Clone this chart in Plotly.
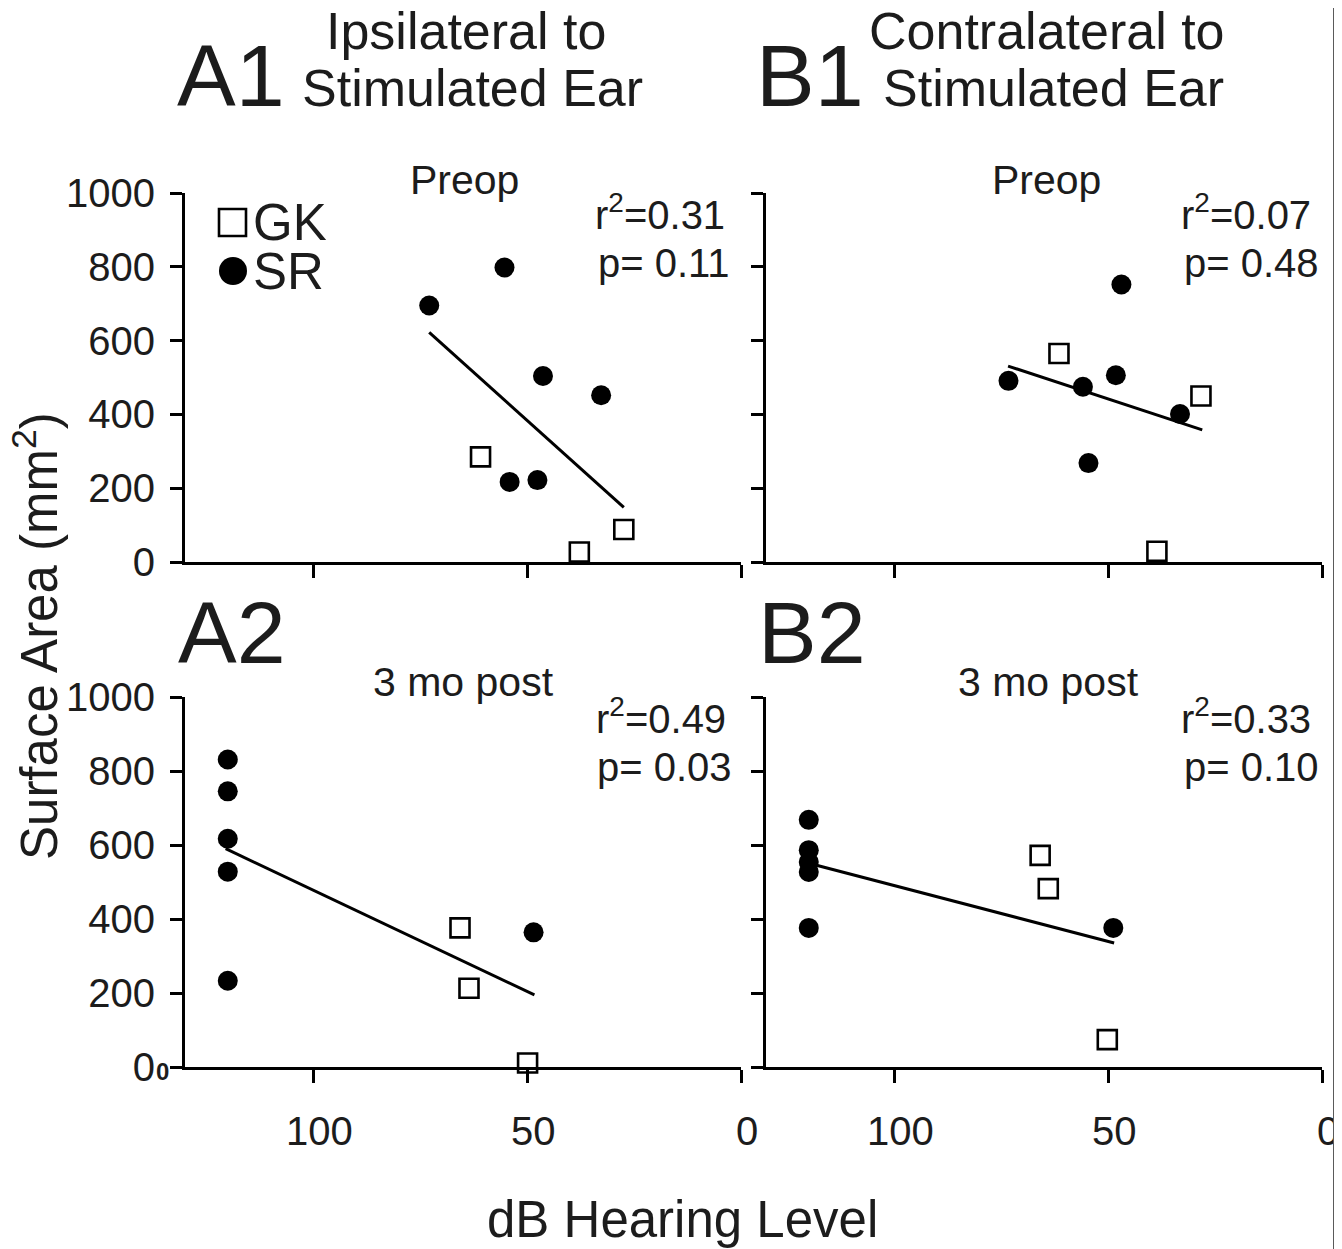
import plotly.graph_objects as go

W, H = 1342, 1249
OX, OY = 8, 8  # page body margin offset

# ---------------- data ----------------
# A1: ipsilateral, preop
a1_gk_x = [60.9, 37.8, 27.4]
a1_gk_y = [285, 27, 88]
a1_sr_x = [72.9, 55.3, 46.3, 32.7, 54.1, 47.6]
a1_sr_y = [695, 798, 504, 452, 217, 222]
a1_fit_x = [72.9, 27.4]
a1_fit_y = [622, 148]

# B1: contralateral, preop
b1_gk_x = [61.5, 28.3, 38.6]
b1_gk_y = [565, 450, 29]
b1_sr_x = [73.3, 55.9, 48.2, 46.9, 54.6, 33.2]
b1_sr_y = [491, 475, 506, 752, 268, 401]
b1_fit_x = [73.4, 28.0]
b1_fit_y = [531, 358]

# A2: ipsilateral, 3 mo post
a2_gk_x = [65.7, 63.6, 49.9]
a2_gk_y = [376, 213, 11]
a2_sr_x = [120, 120, 120, 120, 120, 48.5]
a2_sr_y = [831, 745, 617, 528, 233, 364]
a2_fit_x = [120.5, 48.3]
a2_fit_y = [590, 195]

# B2: contralateral, 3 mo post
b2_gk_x = [65.9, 64.0, 50.2]
b2_gk_y = [572, 482, 74]
b2_sr_x = [120, 120, 120, 120, 120, 48.8]
b2_sr_y = [668, 586, 554, 527, 376, 376]
b2_fit_x = [119.1, 48.6]
b2_fit_y = [548, 335]

x_tickvals = [100, 50, 0]
x_ticktext = ["100", "50", "0"]
y_tickvals = [0, 200, 400, 600, 800, 1000]
y_ticktext = ["0", "200", "400", "600", "800", "1000"]

panel_labels = ["A1", "B1", "A2", "B2"]
period_labels = ["Preop", "Preop", "3 mo post", "3 mo post"]
r2_labels = ["0.31", "0.07", "0.49", "0.33"]
p_labels = ["0.11", "0.48", "0.03", "0.10"]
column_titles = ["Ipsilateral to<br>Stimulated Ear", "Contralateral to<br>Stimulated Ear"]
legend_names = ["GK", "SR"]

FONT = "Liberation Sans, Arial, Helvetica, sans-serif"
TXT = "#1c1c1c"


def px(x):
    return (x - OX) / W


def py(y):
    return 1 - (y - OY) / H


# ---------------- layout geometry (target pixels) ----------------
col_x = [(185, 741), (766, 1322)]
row_y = [(193, 562), (697, 1067)]

fig = go.Figure()

panels = [
    (a1_gk_x, a1_gk_y, a1_sr_x, a1_sr_y, a1_fit_x, a1_fit_y),
    (b1_gk_x, b1_gk_y, b1_sr_x, b1_sr_y, b1_fit_x, b1_fit_y),
    (a2_gk_x, a2_gk_y, a2_sr_x, a2_sr_y, a2_fit_x, a2_fit_y),
    (b2_gk_x, b2_gk_y, b2_sr_x, b2_sr_y, b2_fit_x, b2_fit_y),
]

for i, (gx, gy, sx, sy, fx, fy) in enumerate(panels):
    n = "" if i == 0 else str(i + 1)
    xa, ya = "x" + n, "y" + n
    fig.add_trace(go.Scatter(x=fx, y=fy, mode="lines", xaxis=xa, yaxis=ya,
                             line=dict(color="black", width=3), showlegend=False,
                             hoverinfo="skip"))
    fig.add_trace(go.Scatter(x=sx, y=sy, mode="markers", xaxis=xa, yaxis=ya,
                             name=legend_names[1], showlegend=False, cliponaxis=False,
                             marker=dict(symbol="circle", size=20, color="black",
                                         line=dict(width=0))))
    fig.add_trace(go.Scatter(x=gx, y=gy, mode="markers", xaxis=xa, yaxis=ya,
                             name=legend_names[0], showlegend=False, cliponaxis=False,
                             marker=dict(symbol="square", size=19, color="white",
                                         line=dict(color="black", width=2.6))))

    r, c = divmod(i, 2)
    x0, x1 = col_x[c]
    y0, y1 = row_y[r]
    bottom = r == 1
    left = c == 0
    fig.layout["xaxis" + n] = dict(
        domain=[px(x0), px(x1)], range=[130, 0], anchor=ya, automargin=False,
        showgrid=False, zeroline=False, showline=True, linecolor="black", linewidth=3,
        ticks="outside", ticklen=13, tickwidth=3, tickcolor="black",
        tickvals=x_tickvals, ticktext=x_ticktext, showticklabels=bottom,
        ticklabelstandoff=14, ticklabelshift=-6,
        tickfont=dict(family=FONT, size=40, color=TXT),
    )
    fig.layout["yaxis" + n] = dict(
        domain=[py(y1), py(y0)], range=[0, 1000], anchor=xa, automargin=False,
        showgrid=False, zeroline=False, showline=True, linecolor="black", linewidth=3,
        ticks="outside", ticklen=12, tickwidth=3, tickcolor="black",
        tickvals=y_tickvals, ticktext=y_ticktext, showticklabels=left,
        ticklabelstandoff=7,
        tickfont=dict(family=FONT, size=40, color=TXT),
    )

ann = []


def add_text(text, x, y, size, xanchor="center", yanchor="middle", align="center",
             textangle=0, bold=False):
    ann.append(dict(text=("<b>%s</b>" % text) if bold else text,
                    x=px(x), y=py(y), xref="paper", yref="paper",
                    xanchor=xanchor, yanchor=yanchor, align=align, showarrow=False,
                    textangle=textangle,
                    font=dict(family=FONT, size=size, color=TXT)))


# panel letters
add_text(panel_labels[0], 231, 75, 88)
add_text(panel_labels[1], 810, 75, 88)
add_text(panel_labels[2], 232, 632, 88)
add_text(panel_labels[3], 812, 632, 88)
# column titles (two separate lines)
t0 = column_titles[0].split("<br>")
t1 = column_titles[1].split("<br>")
add_text(t0[0], 466, 31, 52)
add_text(t0[1], 472, 88, 52)
add_text(t1[0], 1047, 31, 52)
add_text(t1[1], 1053, 88, 52)
# period labels
add_text(period_labels[0], 464, 180, 41)
add_text(period_labels[1], 1046, 180, 41)
add_text(period_labels[2], 463, 682, 41)
add_text(period_labels[3], 1048, 682, 41)
# stats: (r2 right edge, p right edge, r2 y, p y)
stat_pos = [(727, 732, 212, 263), (1313, 1321, 212, 263),
            (728, 734, 716, 767), (1313, 1321, 716, 767)]
for i, (rx, pxr, ry, pyy) in enumerate(stat_pos):
    add_text("r<sup>2</sup>=%s" % r2_labels[i], rx, ry, 40, xanchor="right")
    add_text("p= %s" % p_labels[i], pxr, pyy, 40, xanchor="right")
# legend text
add_text(legend_names[0], 251, 222, 51, xanchor="left")
add_text(legend_names[1], 251, 271, 51, xanchor="left")
# axis titles
add_text("Surface Area (mm<sup>2</sup>)", 36, 636, 51, textangle=-90)
add_text("dB Hearing Level", 682, 1219, 51)
# stray small bold zero on lower-left axis
add_text("0", 162, 1071, 24, bold=True)

shapes = [
    # legend symbols
    dict(type="rect", xref="paper", yref="paper", x0=px(219), x1=px(246), y0=py(236), y1=py(209),
         line=dict(color="black", width=2.6), fillcolor="white"),
    dict(type="circle", xref="paper", yref="paper", x0=px(219), x1=px(247), y0=py(285), y1=py(257),
         line=dict(color="black", width=0), fillcolor="black"),
    # right border line
    dict(type="line", xref="paper", yref="paper", x0=px(1334.5), x1=px(1334.5), y0=0, y1=1,
         line=dict(color="#5a5a5a", width=3)),
]

fig.update_layout(
    width=W, height=H,
    margin=dict(l=0, r=0, t=0, b=0, autoexpand=False),
    paper_bgcolor="white", plot_bgcolor="white",
    showlegend=False,
    annotations=ann, shapes=shapes,
    font=dict(family=FONT, color=TXT),
)

fig.write_html("out.html")
